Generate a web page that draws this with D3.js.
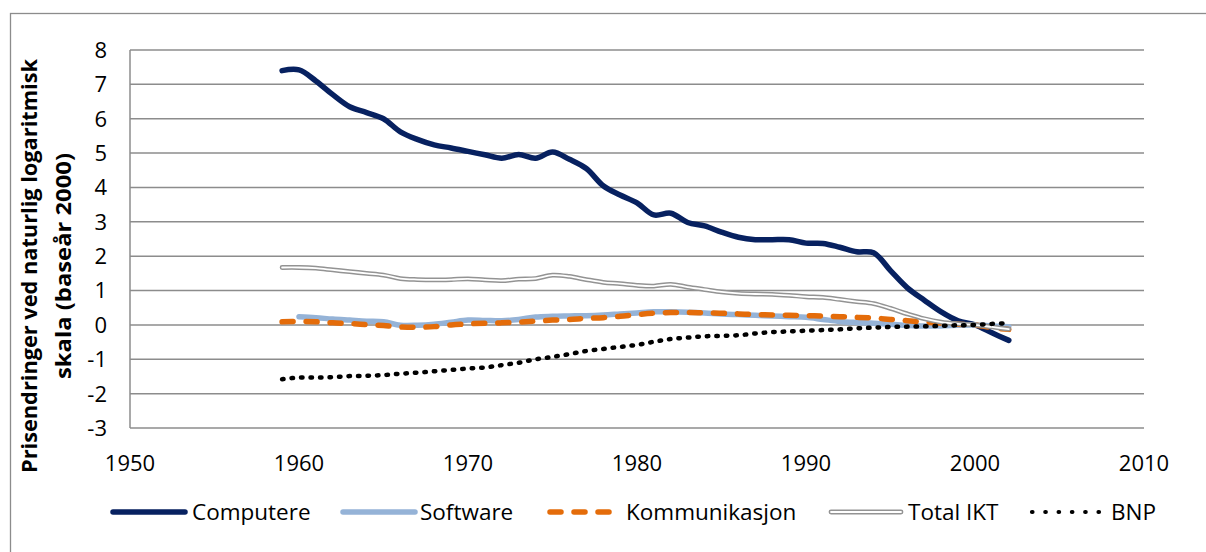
<!DOCTYPE html>
<html>
<head>
<meta charset="utf-8">
<script src="https://cdn.jsdelivr.net/npm/d3@7"></script>
<style>
  html, body { margin: 0; padding: 0; background: #fff; }
  svg { display: block; font-family: "Open Sans", "Noto Sans", sans-serif; }
</style>
</head>
<body>
<svg id="chart" width="1206" height="552"></svg>
<script>
// data (ln of price index, base year 2000)
let years = d3.range(1959, 2003);
let yearsSoftware = d3.range(1960, 2003);

let computere = [7.40, 7.42, 7.10, 6.70, 6.35, 6.18, 6.00, 5.62, 5.40, 5.24, 5.15,
  5.05, 4.95, 4.85, 4.96, 4.85, 5.03, 4.82, 4.55, 4.05, 3.78, 3.55, 3.20, 3.25,
  2.98, 2.88, 2.70, 2.55, 2.48, 2.48, 2.48, 2.38, 2.37, 2.26, 2.13, 2.10, 1.58,
  1.08, 0.72, 0.38, 0.12, 0.00, -0.23, -0.45];

let software = [0.24, 0.21, 0.17, 0.14, 0.11, 0.09, -0.01, -0.01, 0.02, 0.08,
  0.14, 0.13, 0.12, 0.16, 0.23, 0.25, 0.26, 0.27, 0.29, 0.32, 0.35, 0.38, 0.38,
  0.37, 0.35, 0.32, 0.30, 0.28, 0.26, 0.24, 0.22, 0.16, 0.10, 0.07, 0.05, 0.02,
  -0.02, -0.03, -0.03, -0.01, 0.00, -0.03, -0.05];

let kommunikasjon = [0.09, 0.10, 0.09, 0.06, 0.04, 0.01, -0.02, -0.06, -0.07, -0.05,
  0.00, 0.03, 0.05, 0.06, 0.08, 0.11, 0.14, 0.16, 0.19, 0.21, 0.25, 0.30, 0.34,
  0.36, 0.36, 0.35, 0.34, 0.32, 0.30, 0.29, 0.28, 0.27, 0.26, 0.24, 0.22, 0.20,
  0.16, 0.12, 0.08, 0.05, 0.02, 0.00, -0.08, -0.13];

let totalIKT = [1.67, 1.67, 1.65, 1.60, 1.55, 1.50, 1.45, 1.35, 1.32, 1.31, 1.32,
  1.34, 1.31, 1.29, 1.33, 1.35, 1.45, 1.41, 1.32, 1.24, 1.20, 1.15, 1.13, 1.18,
  1.10, 1.03, 0.96, 0.92, 0.90, 0.89, 0.86, 0.82, 0.80, 0.74, 0.68, 0.62, 0.48,
  0.32, 0.18, 0.08, 0.03, 0.00, -0.06, -0.12];

let bnp = [-1.58, -1.53, -1.53, -1.52, -1.49, -1.48, -1.46, -1.42, -1.39, -1.35,
  -1.31, -1.27, -1.24, -1.17, -1.10, -1.00, -0.93, -0.85, -0.76, -0.70, -0.64,
  -0.58, -0.49, -0.41, -0.37, -0.33, -0.32, -0.30, -0.25, -0.21, -0.19, -0.17,
  -0.15, -0.13, -0.10, -0.08, -0.06, -0.05, -0.04, -0.03, -0.01, 0.00, 0.03, 0.05];

let xTicks = [1950, 1960, 1970, 1980, 1990, 2000, 2010];
let yTicks = [-3, -2, -1, 0, 1, 2, 3, 4, 5, 6, 7, 8];
let seriesNames = ['Computere', 'Software', 'Kommunikasjon', 'Total IKT', 'BNP'];

let svg = d3.select('#chart');
let gridColor = '#8c8c8c';

// outer frame (only top/left edges are inside the picture)
svg.append('rect')
  .attr('x', 10.5).attr('y', 13.5)
  .attr('width', 1220).attr('height', 560)
  .attr('fill', 'none')
  .attr('stroke', gridColor)
  .attr('stroke-width', 1.3);

let x = d3.scaleLinear().domain([1950, 2010]).range([130, 1144]);
let y = d3.scaleLinear().domain([-3, 8]).range([428, 50]);

// horizontal gridlines
svg.append('g').selectAll('line').data(yTicks).join('line')
  .attr('x1', x(1950)).attr('x2', x(2010))
  .attr('y1', d => y(d)).attr('y2', d => y(d))
  .attr('stroke', gridColor)
  .attr('stroke-width', 1.5);

// y axis line
svg.append('line')
  .attr('x1', x(1950)).attr('x2', x(1950))
  .attr('y1', y(8)).attr('y2', y(-3))
  .attr('stroke', gridColor)
  .attr('stroke-width', 1.5);

// tick labels
svg.append('g').selectAll('text').data(yTicks).join('text')
  .attr('x', 107)
  .attr('y', d => y(d))
  .attr('dy', '0.36em')
  .attr('text-anchor', 'end')
  .attr('font-size', 22)
  .attr('fill', '#000')
  .text(d => d);

svg.append('g').selectAll('text').data(xTicks).join('text')
  .attr('x', d => x(d))
  .attr('y', 471)
  .attr('text-anchor', 'middle')
  .attr('font-size', 22)
  .attr('fill', '#000')
  .text(d => d);

// y axis title, two lines
let title = svg.append('g')
  .attr('transform', 'translate(0,266) rotate(-90)')
  .attr('font-weight', 'bold')
  .attr('font-size', 22)
  .attr('text-anchor', 'middle');
title.append('text').attr('x', 0).attr('y', 37)
  .attr('textLength', 414).attr('lengthAdjust', 'spacingAndGlyphs')
  .text('Prisendringer ved naturlig logaritmisk');
title.append('text').attr('x', 0).attr('y', 71)
  .attr('textLength', 226).attr('lengthAdjust', 'spacingAndGlyphs')
  .text('skala (baseår 2000)');

let line = d3.line()
  .x(d => x(d[0]))
  .y(d => y(d[1]))
  .curve(d3.curveCatmullRom);

const pairs = (xs, vs) => xs.map((d, i) => [d, vs[i]]);

let lineGroup = svg.append('g').attr('fill', 'none')
  .attr('stroke-linecap', 'round').attr('stroke-linejoin', 'round');

// Computere
lineGroup.append('path')
  .attr('d', line(pairs(years, computere)))
  .attr('stroke', '#072160')
  .attr('stroke-width', 5.5);

// Software
lineGroup.append('path')
  .attr('d', line(pairs(yearsSoftware, software)))
  .attr('stroke', '#95b3d7')
  .attr('stroke-width', 5.5);

// Kommunikasjon
lineGroup.append('path')
  .attr('d', line(pairs(years, kommunikasjon)))
  .attr('stroke', '#e46c0a')
  .attr('stroke-width', 5.5)
  .attr('stroke-dasharray', '11 13');

// Total IKT, double line
lineGroup.append('path')
  .attr('d', line(pairs(years, totalIKT)))
  .attr('stroke', '#939393')
  .attr('stroke-width', 4.8);
lineGroup.append('path')
  .attr('d', line(pairs(years, totalIKT)))
  .attr('stroke', '#fff')
  .attr('stroke-width', 1.8);

// BNP
lineGroup.append('path')
  .attr('d', line(pairs(years, bnp)))
  .attr('stroke', '#000')
  .attr('stroke-width', 4.5)
  .attr('stroke-dasharray', '1.5 8');

// legend
let legendY = 512;
let legendItems = [
  {x1: 113, x2: 185, tx: 192},
  {x1: 343, x2: 415, tx: 420},
  {x1: 547, x2: 613, tx: 626},
  {x1: 831, x2: 901, tx: 908},
  {x1: 1032, x2: 1099, tx: 1111}
];
let legend = svg.append('g').attr('stroke-linecap', 'round');

legend.append('line').attr('x1', legendItems[0].x1).attr('x2', legendItems[0].x2)
  .attr('y1', legendY).attr('y2', legendY)
  .attr('stroke', '#072160').attr('stroke-width', 5.5);
legend.append('line').attr('x1', legendItems[1].x1).attr('x2', legendItems[1].x2)
  .attr('y1', legendY).attr('y2', legendY)
  .attr('stroke', '#95b3d7').attr('stroke-width', 5.5);
legend.append('line').attr('x1', legendItems[2].x1 + 3).attr('x2', legendItems[2].x2)
  .attr('y1', legendY).attr('y2', legendY)
  .attr('stroke', '#e46c0a').attr('stroke-width', 5.5)
  .attr('stroke-dasharray', '11 13');
legend.append('line').attr('x1', legendItems[3].x1).attr('x2', legendItems[3].x2)
  .attr('y1', legendY).attr('y2', legendY)
  .attr('stroke', '#939393').attr('stroke-width', 4.8);
legend.append('line').attr('x1', legendItems[3].x1).attr('x2', legendItems[3].x2)
  .attr('y1', legendY).attr('y2', legendY)
  .attr('stroke', '#fff').attr('stroke-width', 1.8);
legend.append('line').attr('x1', legendItems[4].x1).attr('x2', legendItems[4].x2)
  .attr('y1', legendY).attr('y2', legendY)
  .attr('stroke', '#000').attr('stroke-width', 4.2)
  .attr('stroke-dasharray', '0.5 12.8');

svg.append('g').selectAll('text').data(seriesNames).join('text')
  .attr('x', (d, i) => legendItems[i].tx)
  .attr('y', legendY + 8)
  .attr('font-size', 22.5)
  .attr('fill', '#000')
  .text(d => d);
</script>
</body>
</html>
